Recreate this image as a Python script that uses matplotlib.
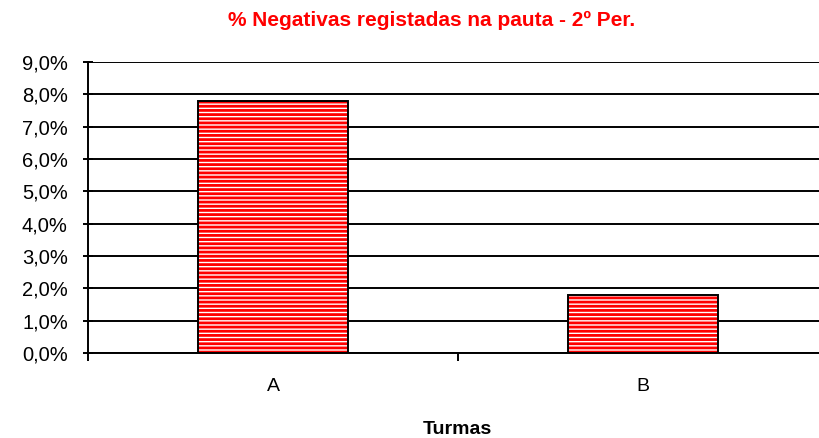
"""Bar chart: % negativas registadas na pauta, 2.º período, por turma."""

import matplotlib
matplotlib.use("Agg")
import matplotlib.pyplot as plt
from matplotlib.ticker import FuncFormatter

turmas = ["A", "B"]
negativas_pct = [7.8, 1.8]
yticks = [0, 1, 2, 3, 4, 5, 6, 7, 8, 9]

W, H = 819, 438
plt.rcParams["font.family"] = ["Liberation Sans", "DejaVu Sans"]
plt.rcParams["hatch.linewidth"] = 2.0

fig = plt.figure(figsize=(W / 100, H / 100), dpi=100)
ax = fig.add_axes([88 / W, 85 / H, 740 / W, 291 / H])

x = range(len(turmas))
# red horizontal stripes, then a black outline on top
ax.bar(x, negativas_pct, width=0.408, color="white", edgecolor="red",
       hatch="----", linewidth=0, zorder=3)
ax.bar(x, negativas_pct, width=0.408, fill=False, edgecolor="black",
       linewidth=1.4, zorder=4)

ax.set_xlim(-0.5, len(turmas) - 0.5)
ax.set_ylim(0, 9)
ax.set_yticks(yticks)
ax.yaxis.set_major_formatter(
    FuncFormatter(lambda v, _: f"{v:.1f}%".replace(".", ",")))
ax.set_xticks(list(x))
ax.set_xticklabels(turmas)
ax.set_xticks([i - 0.5 for i in range(len(turmas) + 1)], minor=True)
ax.tick_params(axis="x", which="major", length=0, pad=18, labelsize=14)
ax.tick_params(axis="x", which="minor", length=6, width=1.4, direction="out")
ax.tick_params(axis="y", length=7, width=1.4, direction="inout", labelsize=14.5,
               pad=11)

ax.grid(axis="y", color="black", linewidth=1.4, zorder=1)
ax.set_axisbelow(True)
for side in ("top", "right"):
    ax.spines[side].set_visible(False)
for side in ("left", "bottom"):
    ax.spines[side].set_linewidth(1.4)

fig.text(432 / W, 1 - 20 / H, "% Negativas registadas na pauta - 2º Per.",
         color="red", fontweight="bold", fontsize=15, ha="center", va="center")
fig.text(457 / W, 1 - 429 / H, "Turmas", fontweight="bold", fontsize=14,
         ha="center", va="center")

fig.savefig("out.png", dpi=100)
